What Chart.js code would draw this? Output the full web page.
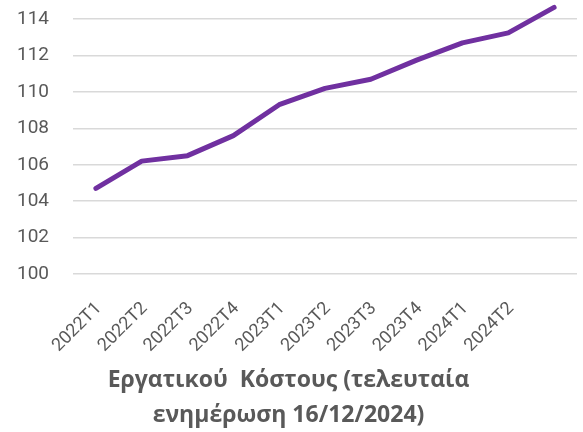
<!DOCTYPE html>
<html>
<head>
<meta charset="utf-8">
<script src="https://cdn.jsdelivr.net/npm/chart.js@4.4.1/dist/chart.umd.min.js"></script>
<style>
html,body{margin:0;padding:0;background:#fff;}
#wrap{width:583px;height:432px;}
</style>
</head>
<body>
<div id="wrap"><canvas id="c" width="583" height="432"></canvas></div>
<script>
const categories = ["2022T1","2022T2","2022T3","2022T4","2023T1","2023T2","2023T3","2023T4","2024T1","2024T2",""];
const values = [104.7,106.2,106.5,107.6,109.3,110.2,110.7,111.75,112.7,113.25,114.65];
const yTicks = [100,102,104,106,108,110,112,114];
const titleLines = ["Εργατικού  Κόστους (τελευταία","ενημέρωση 16/12/2024)"];

const grey = "#595959";
new Chart(document.getElementById('c'), {
  type: 'line',
  data: {
    labels: categories,
    datasets: [{
      data: values,
      borderColor: '#7030A0',
      borderWidth: 5,
      borderCapStyle: 'round',
      borderJoinStyle: 'round',
      pointRadius: 0,
      fill: false,
      tension: 0
    }]
  },
  options: {
    responsive: false,
    animation: false,
    layout: { padding: { top: 1, left: 0, right: 6, bottom: 0 } },
    plugins: {
      legend: { display: false },
      tooltip: { enabled: false },
      title: {
        display: true,
        position: 'bottom',
        text: titleLines,
        color: grey,
        font: { family: 'Open Sans', size: 23, weight: 'bold', lineHeight: 1.48 },
        padding: { top: 0, bottom: 0 }
      }
    },
    scales: {
      x: {
        offset: true,
        grid: { display: false, drawTicks: false },
        border: { display: false },
        ticks: {
          color: grey,
          font: { family: 'Roboto', size: 18 },
          minRotation: 45, maxRotation: 45,
          autoSkip: false,
          padding: 24,
          labelOffset: 3
        },
        afterFit: (s) => { s.height = 90; s.paddingLeft = 0; s.paddingRight = 0; }
      },
      y: {
        min: 100, max: 115,
        grid: { color: '#D9D9D9', lineWidth: 1.5, drawTicks: false },
        border: { display: false },
        afterBuildTicks: (s) => { s.ticks = yTicks.map(v => ({ value: v })); },
        ticks: {
          color: grey,
          font: { family: 'Roboto', size: 19 },
          padding: 24
        },
        afterFit: (s) => { s.width = 73; s.paddingTop = 0; s.paddingBottom = 0; }
      }
    }
  }
});
</script>
</body>
</html>
